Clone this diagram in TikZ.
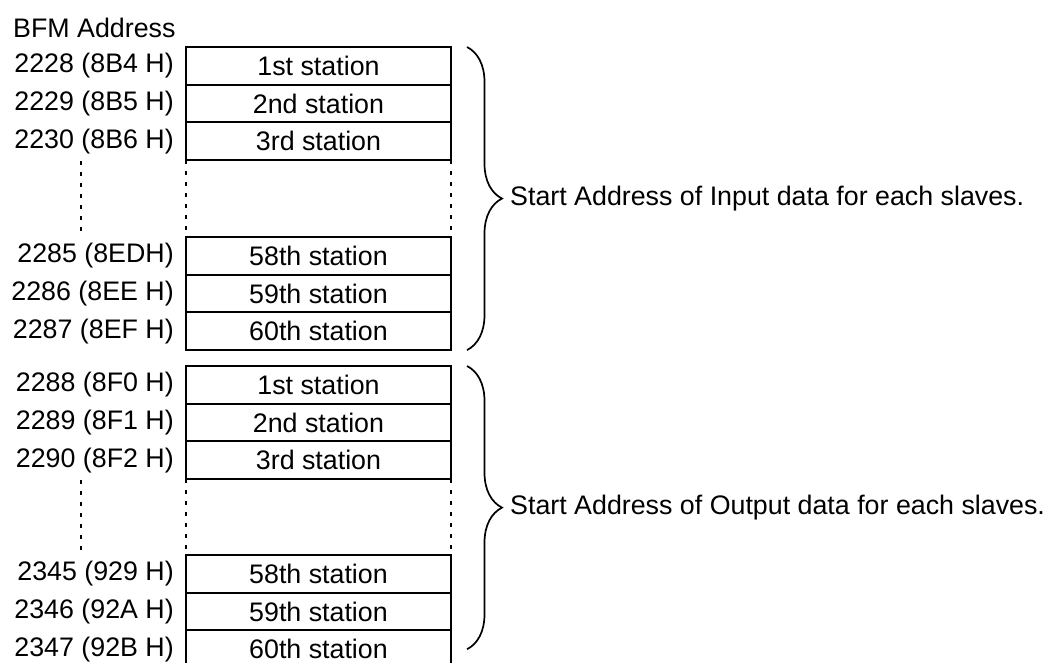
\documentclass[tikz,border=0pt]{standalone}
\usepackage{fontspec}
\setmainfont{Liberation Sans}
\usetikzlibrary{positioning,calc,decorations.pathreplacing}
\tikzset{
  slot/.style={draw, line width=1.9pt, outer sep=0pt, inner sep=0pt,
               minimum width=265pt, minimum height=37.7pt,
               font=\fontsize{26.8}{30}\selectfont},
  addr/.style={inner sep=0pt, font=\fontsize{26.8}{30}\selectfont},
  gap/.style={line width=1.9pt, dash pattern=on 4pt off 7pt},
  brc/.style={decorate, decoration={brace, amplitude=35pt}, line width=1.7pt},
  note/.style={anchor=west, inner sep=0pt, font=\fontsize{26.8}{30}\selectfont},
}

\begin{document}
\begin{tikzpicture}[x=1pt, y=-1pt, node distance=0pt]
\useasboundingbox (0,0) rectangle (1044,663);
\node[addr, anchor=west] (hd) at (13,28) {BFM Address};
% input area
\node[slot, anchor=north west] (i1) at (186,47) {1st station};
\node[slot, below=of i1] (i2) {2nd station};
\node[slot, below=of i2] (i3) {3rd station};
\node[slot, anchor=north west] (i58) at (186,237) {58th station};
\node[slot, below=of i58] (i59) {59th station};
\node[slot, below=of i59] (i60) {60th station};
\node[addr, left=12pt of i1] (a1) {2228 (8B4 H)};
\node[addr, left=12pt of i2] (a2) {2229 (8B5 H)};
\node[addr, left=12pt of i3] (a3) {2230 (8B6 H)};
\node[addr, left=12pt of i58] (a58) {2285 (8EDH)};
\node[addr, left=12pt of i59] (a59) {2286 (8EE H)};
\node[addr, left=12pt of i60] (a60) {2287 (8EF H)};
\draw[gap] (i3.south west) -- (i58.north west);
\draw[gap] (i3.south east) -- (i58.north east);
\draw[gap] ($(i3.south west)+(-105,1)$) -- ($(i58.north west)+(-105,-4)$);
\draw[brc] ($(i1.north east)+(16,0)$) -- ($(i60.south east)+(16,0)$);
\node[note] (ti) at ($(i1.north east)!0.5!(i60.south east)+(59,0)$)
  {Start Address of Input data for each slaves.};
% output area
\node[slot, anchor=north west] (o1) at (186,366) {1st station};
\node[slot, below=of o1] (o2) {2nd station};
\node[slot, below=of o2] (o3) {3rd station};
\node[slot, anchor=north west] (o58) at (186,555) {58th station};
\node[slot, below=of o58] (o59) {59th station};
\node[slot, below=of o59] (o60) {60th station};
\node[addr, left=12pt of o1] (b1) {2288 (8F0 H)};
\node[addr, left=12pt of o2] (b2) {2289 (8F1 H)};
\node[addr, left=12pt of o3] (b3) {2290 (8F2 H)};
\node[addr, left=12pt of o58] (b58) {2345 (929 H)};
\node[addr, left=12pt of o59] (b59) {2346 (92A H)};
\node[addr, left=12pt of o60] (b60) {2347 (92B H)};
\draw[gap] (o3.south west) -- (o58.north west);
\draw[gap] (o3.south east) -- (o58.north east);
\draw[gap] ($(o3.south west)+(-105,1)$) -- ($(o58.north west)+(-105,-4)$);
\draw[brc] ($(o1.north east)+(16,0)$) -- ($(o60.east)+(16,0)$);
\node[note] (to) at ($(o1.north east)!0.5!(o60.east)+(59,0)$)
  {Start Address of Output data for each slaves.};
\end{tikzpicture}
\end{document}
